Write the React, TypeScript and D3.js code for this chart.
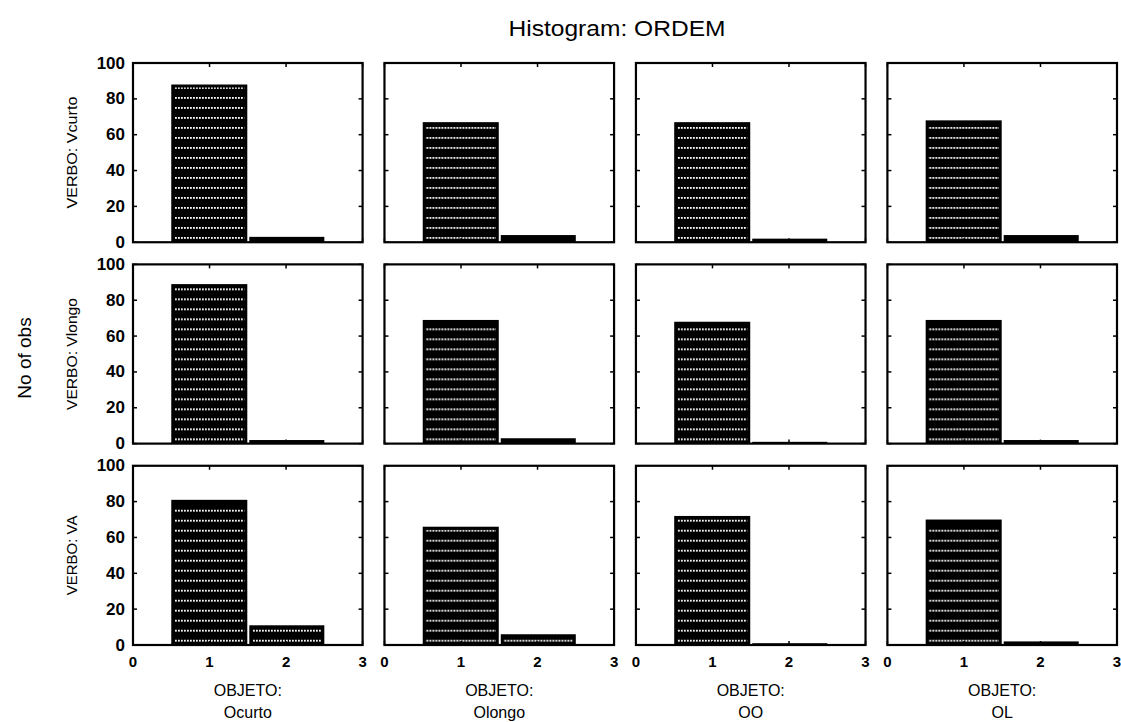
import * as d3 from "d3";

const WIDTH = 1121;
const HEIGHT = 722;

// facets
const verbo = ["Vcurto", "Vlongo", "VA"];
const verboLabels = ["VERBO: Vcurto", "VERBO: Vlongo", "VERBO: VA"];
const objeto = ["Ocurto", "Olongo", "OO", "OL"];

// histogram bins of ORDEM
const ordemBins = [1, 2];

// counts per row (verbo) x column (objeto)
const ordem1Counts = [
  [88, 67, 67, 68],
  [89, 69, 68, 69],
  [81, 66, 72, 70],
];
const ordem2Counts = [
  [3, 4, 2, 4],
  [2, 3, 1, 2],
  [11, 6, 1, 2],
];

const yTicks = [0, 20, 40, 60, 80, 100];
const xTicks = [0, 1, 2, 3];

const FONT = "'Liberation Sans', Arial, Helvetica, sans-serif";

const App = () => {
  const col = d3.scaleBand<string>().domain(objeto).range([133, 1117]).paddingInner(0.087);
  const row = d3.scaleBand<string>().domain(verbo).range([63, 645]).paddingInner(0.11);
  const bw = col.bandwidth();
  const bh = row.bandwidth();
  const x = d3.scaleLinear().domain([0, 3]).range([0, bw]);
  const y = d3.scaleLinear().domain([0, 100]).range([bh, 0]);

  const counts = [ordem1Counts, ordem2Counts];

  return (
    <svg
      width={WIDTH}
      height={HEIGHT}
      style={{ position: "absolute", left: 0, top: 0, background: "#fff" }}
      fontFamily={FONT}
    >
      <defs>
        <pattern id="stipple" patternUnits="userSpaceOnUse" width={3} height={10}>
          <rect width={3} height={10} fill="#000" />
          <rect x={0} y={4} width={1.8} height={1.8} fill="#fff" />
        </pattern>
      </defs>
      <rect width={WIDTH} height={HEIGHT} fill="#fff" />

      <text x={617} y={36} textAnchor="middle" fontSize={22} textLength={217} lengthAdjust="spacingAndGlyphs">
        Histogram: ORDEM
      </text>

      <text
        transform={`translate(24, 358) rotate(-90)`}
        textAnchor="middle"
        dominantBaseline="central"
        fontSize={19}
      >
        No of obs
      </text>

      {verbo.map((v, ri) => {
        const top = row(v)!;
        return (
          <g key={v}>
            <text
              transform={`translate(71, ${top + bh / 2}) rotate(-90)`}
              textAnchor="middle"
              dominantBaseline="central"
              fontSize={15}
              textLength={ri === 2 ? undefined : 112}
              lengthAdjust="spacingAndGlyphs"
            >
              {verboLabels[ri]}
            </text>
            {yTicks.map((t) => (
              <text
                key={t}
                x={col(objeto[0])! - 8}
                y={top + y(t)}
                textAnchor="end"
                dominantBaseline="central"
                fontSize={17}
                fontWeight="bold"
              >
                {t}
              </text>
            ))}
            {objeto.map((o, ci) => {
              const left = col(o)!;
              return (
                <g key={o} transform={`translate(${left}, ${top})`}>
                  {ordemBins.map((b, bi) => {
                    const val = counts[bi][ri][ci];
                    const x0 = x(b - 0.5) + (bi === 1 ? 1.5 : 0);
                    const x1 = x(b + 0.5) - (bi === 0 ? 0.5 : 0);
                    const y0 = y(val);
                    const h = bh - y0;
                    const inner = h > 8;
                    return (
                      <g key={b}>
                        <rect x={x0} y={y0} width={x1 - x0} height={h} fill="#000" />
                        {inner && (
                          <rect
                            x={x0 + 3}
                            y={y0 + 3}
                            width={x1 - x0 - 6}
                            height={h - 5}
                            fill="url(#stipple)"
                          />
                        )}
                      </g>
                    );
                  })}
                  {yTicks.map((t) => (
                    <g key={t} stroke="#000" strokeWidth={1.5}>
                      <line x1={0} x2={4} y1={y(t)} y2={y(t)} />
                      <line x1={bw} x2={bw - 4} y1={y(t)} y2={y(t)} />
                    </g>
                  ))}
                  {xTicks.map((t) => (
                    <g key={t} stroke="#000" strokeWidth={1.5}>
                      <line x1={x(t)} x2={x(t)} y1={0} y2={4} />
                      <line x1={x(t)} x2={x(t)} y1={bh} y2={bh - 4} />
                    </g>
                  ))}
                  <rect x={0} y={0} width={bw} height={bh} fill="none" stroke="#000" strokeWidth={2.2} />
                </g>
              );
            })}
          </g>
        );
      })}

      {objeto.map((o) => {
        const left = col(o)!;
        const bottom = row(verbo[verbo.length - 1])! + bh;
        return (
          <g key={o}>
            {xTicks.map((t) => (
              <text
                key={t}
                x={left + x(t)}
                y={bottom + 16}
                textAnchor="middle"
                dominantBaseline="central"
                fontSize={15}
                fontWeight="bold"
              >
                {t}
              </text>
            ))}
            <text x={left + bw / 2} y={bottom + 51} textAnchor="middle" fontSize={16}>
              OBJETO:
            </text>
            <text x={left + bw / 2} y={bottom + 73} textAnchor="middle" fontSize={16}>
              {o}
            </text>
          </g>
        );
      })}
    </svg>
  );
};

export default App;
